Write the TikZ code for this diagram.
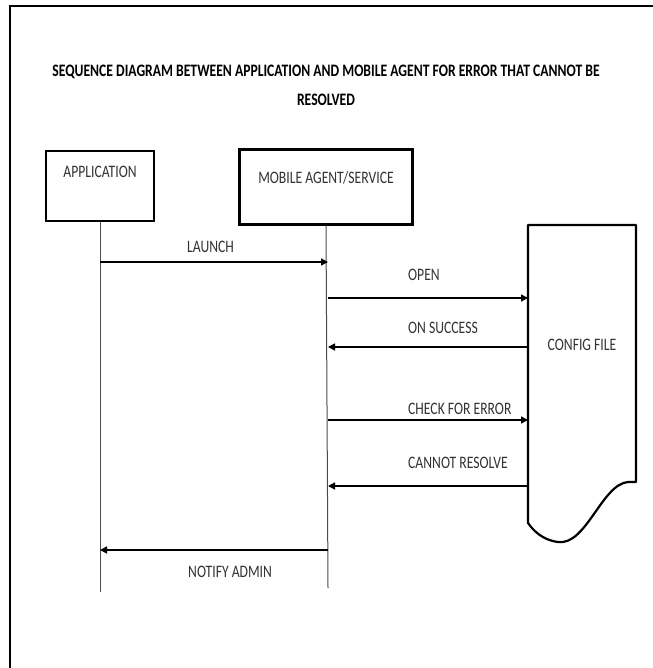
\documentclass[tikz,border=0pt]{standalone}
\usepackage{fontspec}
\setmainfont[FakeStretch=0.78]{Carlito}
\usetikzlibrary{arrows.meta}
\begin{document}
\begin{tikzpicture}[x=1pt,y=-1pt,
  lbl/.style={inner sep=0pt, text=black!80, font=\fontsize{17.5}{20}\selectfont},
  ttl/.style={inner sep=0pt, text=black, font=\bfseries\fontsize{17.5}{20}\selectfont},
  box/.style={draw=black, line width=2.4pt, inner sep=0pt},
  life/.style={draw=black!70, line width=1pt},
  msg/.style={draw=black, line width=1.5pt, -{Triangle[length=7pt,width=7pt]}},
  frame/.style={draw=black, line width=2.6pt}]
\useasboundingbox (0,0) rectangle (652,668);
\fill[white] (0,0) rectangle (652,668);
% frame
\coordinate (ftr) at (653,6);
\coordinate (ftl) at (10,6);
\coordinate (fbl) at (10,669);
\draw[frame] (ftr) -- (ftl) -- (fbl);
% title
\node[ttl] (t1) at (326,72) {SEQUENCE DIAGRAM BETWEEN APPLICATION AND MOBILE AGENT FOR ERROR THAT CANNOT BE};
\node[ttl] (t2) at (326,100) {RESOLVED};
% boxes
\node[box, minimum width=108pt, minimum height=70pt] (app) at (100,186) {};
\node[lbl] (appt) at (100,172) {APPLICATION};
\node[box, minimum width=173pt, minimum height=75pt] (mob) at (326,187) {};
\node[lbl] (mobt) at (326,178) {MOBILE AGENT/SERVICE};
% config file
\node[minimum width=108pt, minimum height=257pt, inner sep=0pt] (cfg) at (582,353.5) {};
\draw[line width=2.2pt, line join=round]
  (528,225) -- (636,225) -- (636,482) -- (628,482)
  .. controls (602,484) and (586,546) .. (558,542)
  .. controls (542,540) and (533,530) .. (528,523) -- cycle;
\node[lbl] (cfgt) at (582,345) {CONFIG FILE};
% lifelines
\coordinate (append) at (100,592);
\coordinate (mobend) at (328,588);
\draw[life] (app.south) -- (append);
\draw[life] (mob.south) -- (mobend);
% message endpoints
\coordinate (a1) at (100,262); \coordinate (m1) at (328,262);
\coordinate (m2) at (328,298); \coordinate (c2) at (528,298);
\coordinate (c3) at (528,347); \coordinate (m3) at (328,347);
\coordinate (m4) at (328,420); \coordinate (c4) at (528,420);
\coordinate (c5) at (528,486); \coordinate (m5) at (328,486);
\coordinate (m6) at (328,550); \coordinate (a6) at (100,550);
\draw[msg] (a1) -- (m1);
\draw[msg] (m2) -- (c2);
\draw[msg] (c3) -- (m3);
\draw[msg] (m4) -- (c4);
\draw[msg] (c5) -- (m5);
\draw[msg] (m6) -- (a6);
% labels
\node[lbl, anchor=west] (l1) at (187,247) {LAUNCH};
\node[lbl, anchor=west] (l2) at (408,275) {OPEN};
\node[lbl, anchor=west] (l3) at (408,328) {ON SUCCESS};
\node[lbl, anchor=west] (l4) at (408,409) {CHECK FOR ERROR};
\node[lbl, anchor=west] (l5) at (408,463) {CANNOT RESOLVE};
\node[lbl, anchor=west] (l6) at (188,572) {NOTIFY ADMIN};
\end{tikzpicture}
\end{document}
